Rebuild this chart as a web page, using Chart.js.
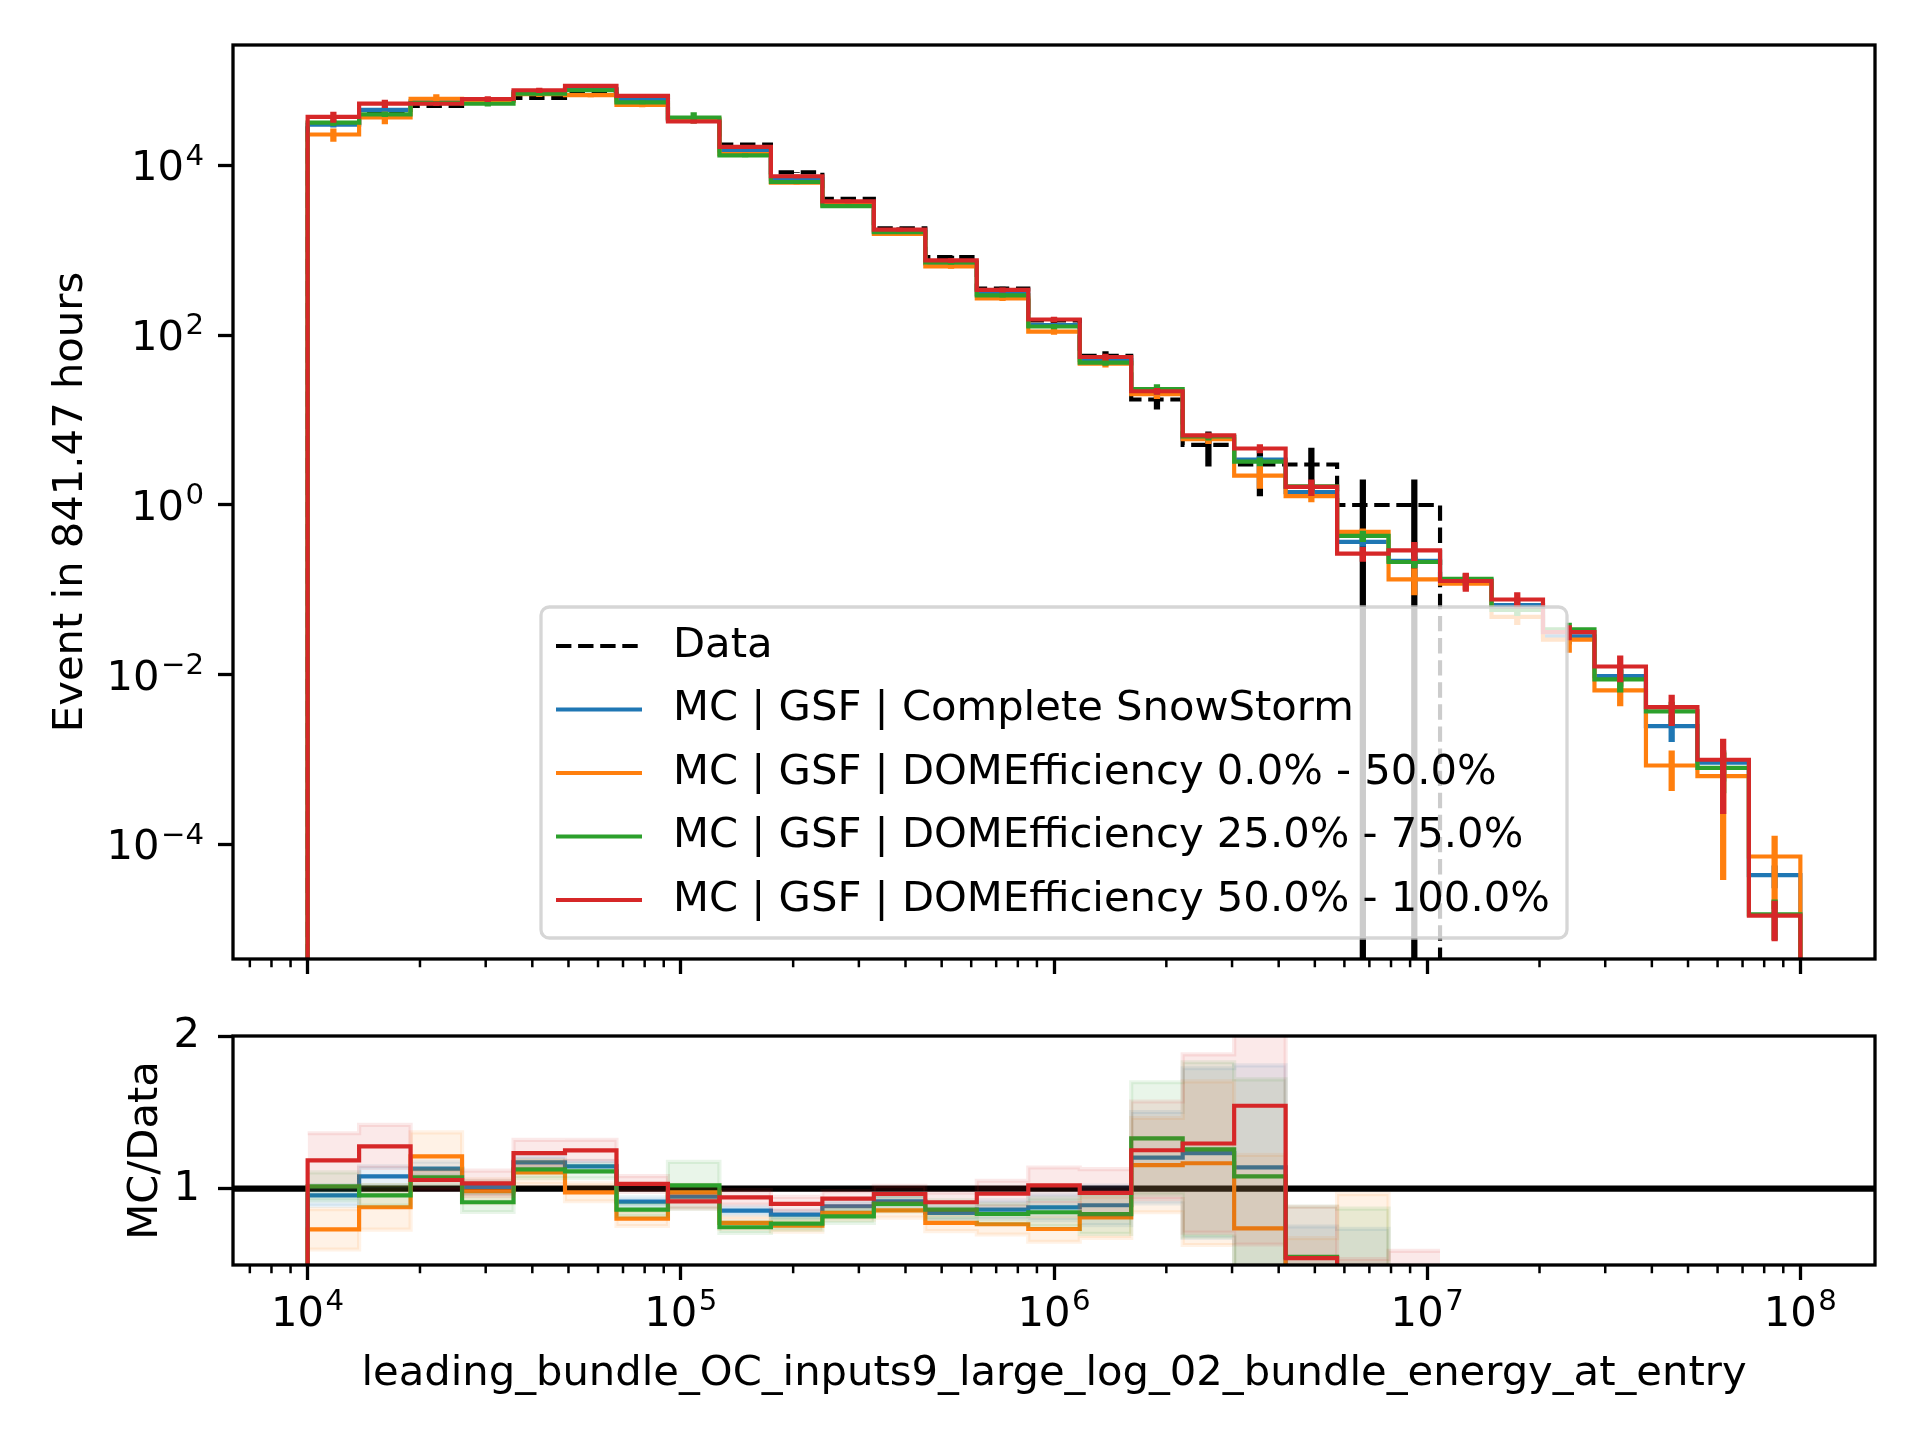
<!DOCTYPE html>
<html>
<head>
<meta charset="utf-8">
<title>leading_bundle_OC_inputs9_large_log_02_bundle_energy_at_entry</title>
<script src="https://cdn.jsdelivr.net/npm/chart.js@4.4.1/dist/chart.umd.min.js"></script>
<style>
  html, body { margin: 0; padding: 0; background: #ffffff; }
  #page { position: relative; width: 1920px; height: 1440px; overflow: hidden; }
  canvas { position: absolute; left: 0; }
  #hist { top: 0; }
  #ratio { top: 1000px; }
</style>
</head>
<body>
<div id="page">
  <canvas id="hist" width="1920" height="1000"></canvas>
  <canvas id="ratio" width="1920" height="440"></canvas>
</div>
<script>
// binning: 29 log-spaced bins between 1e4 and 1e8
const binLogMin = 4;
const binLogMax = 8;
const nBins = 29;

const dataCounts = [31600, 41900, 50500, 58700, 62500, 69300, 64300, 36000, 17600, 8300,
  4050, 1820, 835, 354, 150, 57, 17.5, 5.1, 3, 3, 1, 1, 0, 0, 0, 0, 0, 0, 0];
const dataErrors = [177.8, 204.7, 224.7, 242.3, 250, 263.2, 253.6, 189.7, 132.7, 91.1,
  63.6, 42.7, 28.9, 18.8, 12.2, 7.55, 4.18, 2.26, 1.73, 1.73, 1, 1, 0, 0, 0, 0, 0, 0, 0];

const seriesLabels = [
  'MC | GSF | Complete SnowStorm',
  'MC | GSF | DOMEfficiency 0.0% - 50.0%',
  'MC | GSF | DOMEfficiency 25.0% - 75.0%',
  'MC | GSF | DOMEfficiency 50.0% - 100.0%'
];
const seriesColors = ['#1f77b4', '#ff7f0e', '#2ca02c', '#d62728'];

const mcComplete = [30210, 45290, 57120, 59350, 73250, 79420, 58830, 34130, 15070, 6889,
  3584, 1669, 702, 305.5, 131.7, 50.8, 21.05, 6.29, 3.42, 1.42,
  0.367, 0.22, 0.129, 0.066, 0.0283, 0.00964, 0.00248, 0.00092, 4.34e-5];
const mcDom0to50 = [23190, 36790, 61160, 57700, 69190, 67640, 51700, 35140, 13660, 6291,
  3406, 1562, 648, 271.5, 110.4, 46.3, 20.2, 5.95, 2.22, 1.27,
  0.481, 0.133, 0.118, 0.048, 0.0259, 0.00653, 0.000851, 0.000637, 7.2e-5];
const mcDom25to75 = [32070, 40060, 54240, 53480, 70380, 77130, 55490, 36790, 13150, 6399,
  3317, 1638, 720.6, 295.2, 126.8, 47.5, 23.26, 6.41, 3.24, 1.66,
  0.432, 0.213, 0.135, 0.058, 0.0342, 0.00881, 0.00369, 0.0008, 1.5e-5];
const mcDom50to100 = [37450, 53510, 53380, 60750, 77060, 86690, 66290, 33010, 16600, 7470,
  3787, 1756, 760.7, 342.3, 153.3, 55.4, 21.9, 6.61, 4.63, 1.635,
  0.267, 0.292, 0.127, 0.077, 0.0318, 0.0125, 0.00415, 0.000995, 1.45e-5];

// relative statistical uncertainty of each MC bin
const relErrComplete = [0.07, 0.06, 0.04, 0.04, 0.03, 0.03, 0.03, 0.03, 0.03, 0.03,
  0.03, 0.035, 0.04, 0.045, 0.05, 0.06, 0.07, 0.08, 0.1, 0.12,
  0.12, 0.12, 0.12, 0.15, 0.2, 0.25, 0.35, 0.4, 0.3];
const relErrDom0to50 = [0.18, 0.166, 0.13, 0.08, 0.07, 0.06, 0.06, 0.05, 0.05, 0.05,
  0.05, 0.05, 0.06, 0.07, 0.08, 0.1, 0.12, 0.12, 0.3, 0.15,
  0.1, 0.35, 0.15, 0.2, 0.3, 0.35, 0.5, 0.94, 0.76];
const relErrDom25to75 = [0.09, 0.07, 0.05, 0.07, 0.05, 0.04, 0.05, 0.15, 0.05, 0.05,
  0.05, 0.05, 0.06, 0.06, 0.07, 0.08, 0.14, 0.1, 0.12, 0.15,
  0.15, 0.15, 0.15, 0.15, 0.2, 0.3, 0.3, 0.5, 0.5];
const relErrDom50to100 = [0.15, 0.11, 0.06, 0.08, 0.07, 0.055, 0.05, 0.05, 0.05, 0.05,
  0.05, 0.05, 0.06, 0.07, 0.08, 0.09, 0.09, 0.08, 0.12, 0.22,
  0.2, 0.25, 0.25, 0.22, 0.2, 0.35, 0.4, 0.77, 0.5];

const mcValues = [mcComplete, mcDom0to50, mcDom25to75, mcDom50to100];
const mcRelErrors = [relErrComplete, relErrDom0to50, relErrDom25to75, relErrDom50to100];

const histTickValues = [1e-4, 1e-2, 1, 1e2, 1e4];
const histTickExponents = ['\u22124', '\u22122', '0', '2', '4'];
const ratioTickValues = [1, 2];
const ratioTickLabels = ['1', '2'];
const energyTickValues = [1e4, 1e5, 1e6, 1e7, 1e8];
const energyTickExponents = ['4', '5', '6', '7', '8'];

const xMin = Math.pow(10, 3.8);
const xMax = Math.pow(10, 8.2);
const histMin = Math.pow(10, -5.35);
const histMax = Math.pow(10, 5.42);
const HIST_FLOOR = 1e-9;

const FONT = "'DejaVu Sans', sans-serif";
const PX = 41.7;
const LW = 4.17;

const edges = [];
for (let k = 0; k <= nBins; k++) edges.push(Math.pow(10, binLogMin + (binLogMax - binLogMin) * k / nBins));

function withAlpha(hex, a) {
  const n = parseInt(hex.slice(1), 16);
  return 'rgba(' + (n >> 16) + ',' + ((n >> 8) & 255) + ',' + (n & 255) + ',' + a + ')';
}

// histogram outline, points at left bin edges (stepped: 'before')
function stepPoints(vals, floor) {
  const pts = [];
  let open = false;
  for (let i = 0; i <= vals.length; i++) {
    const v = i < vals.length ? vals[i] : null;
    if (v === null) {
      if (open) {
        pts.push({x: edges[i], y: vals[i - 1]});
        if (floor !== null) pts.push({x: edges[i], y: floor});
        pts.push({x: edges[i], y: null});
        open = false;
      }
      continue;
    }
    if (!open && floor !== null) pts.push({x: edges[i], y: floor});
    pts.push({x: edges[i], y: v});
    open = true;
  }
  return pts;
}

function errorBarPoints(vals, errs) {
  const pts = [];
  vals.forEach((v, i) => {
    if (!(v > 0)) return;
    const c = Math.sqrt(edges[i] * edges[i + 1]);
    pts.push({x: c, y: Math.max(v - errs[i], HIST_FLOOR)}, {x: c, y: v + errs[i]}, {x: c, y: null});
  });
  return pts;
}

const lineBase = {pointRadius: 0, pointHoverRadius: 0, fill: false, tension: 0,
  borderCapStyle: 'butt', borderJoinStyle: 'miter'};

// ---------- top panel ----------
const histDatasets = [];
histDatasets.push(Object.assign({}, lineBase, {
  label: 'Data', legend: true,
  data: stepPoints(dataCounts.map(v => v > 0 ? v : HIST_FLOOR), HIST_FLOOR),
  borderColor: '#000000', borderWidth: LW, borderDash: [15.4, 6.7], stepped: 'before', order: 100
}));
histDatasets.push(Object.assign({}, lineBase, {
  label: 'Data errors', data: errorBarPoints(dataCounts, dataErrors),
  borderColor: '#000000', borderWidth: 6.25, order: 99
}));
mcValues.forEach((vals, s) => {
  const errs = vals.map((v, i) => v * mcRelErrors[s][i]);
  histDatasets.push(Object.assign({}, lineBase, {
    label: seriesLabels[s], legend: true,
    data: stepPoints(vals, HIST_FLOOR),
    borderColor: seriesColors[s], borderWidth: LW, stepped: 'before', order: 90 - 10 * s
  }));
  histDatasets.push(Object.assign({}, lineBase, {
    label: seriesLabels[s] + ' errors', data: errorBarPoints(vals, errs),
    borderColor: seriesColors[s], borderWidth: 6.25, order: 89 - 10 * s
  }));
});

// ---------- ratio panel ----------
const ratioDatasets = [];
ratioDatasets.push(Object.assign({}, lineBase, {
  data: [{x: xMin, y: 1}, {x: xMax, y: 1}], borderColor: '#000000', borderWidth: 6.25, order: 100
}));
mcValues.forEach((vals, s) => {
  const ratio = vals.map((v, i) => dataCounts[i] > 0 ? v / dataCounts[i] : null);
  const spread = ratio.map((r, i) => r === null ? null :
    r * Math.hypot(mcRelErrors[s][i], dataErrors[i] / dataCounts[i]));
  const upper = ratio.map((r, i) => r === null ? null : r + spread[i]);
  const lower = ratio.map((r, i) => r === null ? null : r - spread[i]);
  ratioDatasets.push(Object.assign({}, lineBase, {
    data: stepPoints(upper, null), stepped: 'before', fill: '+1',
    backgroundColor: withAlpha(seriesColors[s], 0.1), borderColor: withAlpha(seriesColors[s], 0.1),
    borderWidth: LW, order: 90 - 10 * s
  }));
  ratioDatasets.push(Object.assign({}, lineBase, {
    data: stepPoints(lower, null), stepped: 'before',
    borderColor: withAlpha(seriesColors[s], 0.1), borderWidth: LW, order: 89 - 10 * s
  }));
  ratioDatasets.push(Object.assign({}, lineBase, {
    data: stepPoints(ratio, 0), stepped: 'before',
    borderColor: seriesColors[s], borderWidth: LW, order: 88 - 10 * s
  }));
});

// ---------- plugins ----------
const framePlugin = {
  id: 'frame',
  afterDatasetsDraw(chart) {
    const {ctx, chartArea: a} = chart;
    ctx.save();
    ctx.strokeStyle = '#000000';
    ctx.lineWidth = 3.3;
    ctx.strokeRect(a.left, a.top, a.right - a.left, a.bottom - a.top);
    ctx.restore();
  }
};

const minorTickPlugin = {
  id: 'minorTicks',
  afterDatasetsDraw(chart) {
    const {ctx, chartArea: a} = chart;
    const sx = chart.scales.x;
    ctx.save();
    ctx.strokeStyle = '#000000';
    ctx.lineWidth = 2.5;
    ctx.beginPath();
    for (let d = 3; d <= 8; d++) {
      for (let m = 2; m <= 9; m++) {
        const v = m * Math.pow(10, d);
        if (v < sx.min || v > sx.max) continue;
        const px = sx.getPixelForValue(v);
        ctx.moveTo(px, a.bottom);
        ctx.lineTo(px, a.bottom + 8.3);
      }
    }
    ctx.stroke();
    ctx.restore();
  }
};

// "10" with a raised, smaller exponent, like mathtext
const powerLabelPlugin = {
  id: 'powerLabels',
  afterDraw(chart, args, opts) {
    if (!opts || !opts.axes) return;
    const {ctx, chartArea: a} = chart;
    const baseFont = PX + 'px ' + FONT;
    const expFont = (PX * 0.7) + 'px ' + FONT;
    ctx.save();
    ctx.fillStyle = '#000000';
    ctx.textBaseline = 'alphabetic';
    ctx.textAlign = 'left';
    opts.axes.forEach(ax => {
      const scale = chart.scales[ax.id];
      ax.values.forEach((v, i) => {
        const p = scale.getPixelForValue(v);
        ctx.font = baseFont;
        const wBase = ctx.measureText('10').width;
        ctx.font = expFont;
        const wExp = ctx.measureText(ax.exponents[i]).width;
        const total = wBase + 1.5 + wExp;
        let x0, yb;
        if (ax.side === 'left') {
          x0 = a.left - 29 - total;
          yb = p + 14.8;
        } else {
          x0 = p - total / 2;
          yb = a.bottom + 60.7;
        }
        ctx.font = baseFont;
        ctx.fillText('10', x0, yb);
        ctx.font = expFont;
        ctx.fillText(ax.exponents[i], x0 + wBase + 1.5, yb - 15.7);
      });
    });
    ctx.restore();
  }
};

const boxLegendPlugin = {
  id: 'boxLegend',
  afterDatasetsDraw(chart, args, opts) {
    if (!opts || !opts.box) return;
    const {ctx} = chart;
    const b = opts.box;
    ctx.save();
    ctx.beginPath();
    ctx.roundRect(b.x, b.y, b.w, b.h, 8.3);
    ctx.fillStyle = 'rgba(255,255,255,0.8)';
    ctx.fill();
    ctx.lineWidth = 3.3;
    ctx.strokeStyle = 'rgba(204,204,204,0.8)';
    ctx.stroke();
    const items = chart.data.datasets.filter(d => d.legend);
    ctx.font = PX + 'px ' + FONT;
    ctx.textBaseline = 'middle';
    ctx.textAlign = 'left';
    items.forEach((d, i) => {
      const y = opts.rowStart + opts.rowStep * i;
      ctx.beginPath();
      ctx.setLineDash(d.borderDash || []);
      ctx.strokeStyle = d.borderColor;
      ctx.lineWidth = d.borderWidth;
      ctx.moveTo(opts.handle[0], y);
      ctx.lineTo(opts.handle[1], y);
      ctx.stroke();
      ctx.setLineDash([]);
      ctx.fillStyle = '#000000';
      ctx.fillText(d.label, opts.textX, y);
    });
    ctx.restore();
  }
};

const tickFont = {family: FONT, size: PX, lineHeight: 1};
const titleFont = {family: FONT, size: PX, lineHeight: 1.2};
const tickGrid = {drawOnChartArea: false, drawTicks: true, tickLength: 15, tickWidth: 3.3, tickColor: '#000000'};

function energyAxis(height) {
  return {
    type: 'logarithmic', min: xMin, max: xMax, bounds: 'data',
    afterBuildTicks: s => { s.ticks = energyTickValues.map(v => ({value: v, major: true})); },
    ticks: {autoSkip: false, maxRotation: 0, color: '#000000', font: tickFont, padding: 11,
      callback: () => ''},
    grid: tickGrid,
    border: {display: false},
    afterFit: s => { s.height = height; s.paddingLeft = 0; s.paddingRight = 0; }
  };
}

// ---------- charts ----------
new Chart(document.getElementById('hist'), {
  type: 'line',
  data: {datasets: histDatasets},
  options: {
    responsive: false, animation: false, devicePixelRatio: 1,
    layout: {padding: {left: 0, right: 45, top: 45, bottom: 0}},
    events: [],
    plugins: {
      legend: {display: false}, tooltip: {enabled: false},
      boxLegend: {box: {x: 541, y: 607, w: 1026, h: 331}, rowStart: 646, rowStep: 63.5,
        handle: [556, 642], textX: 673},
      powerLabels: {axes: [{id: 'y', side: 'left', values: histTickValues, exponents: histTickExponents}]}
    },
    scales: {
      x: energyAxis(41),
      y: {
        type: 'logarithmic', min: histMin, max: histMax, bounds: 'data',
        afterBuildTicks: s => { s.ticks = histTickValues.map(v => ({value: v, major: true})); },
        ticks: {autoSkip: false, color: '#000000', font: tickFont, padding: 18, callback: () => ''},
        grid: tickGrid,
        border: {display: false},
        title: {display: true, text: 'Event in 841.47 hours', color: '#000000', font: titleFont,
          padding: {top: 46, bottom: 0}},
        afterFit: s => { s.width = 233; s.paddingTop = 0; s.paddingBottom = 0; }
      }
    }
  },
  plugins: [framePlugin, minorTickPlugin, boxLegendPlugin, powerLabelPlugin]
});

new Chart(document.getElementById('ratio'), {
  type: 'line',
  data: {datasets: ratioDatasets},
  options: {
    responsive: false, animation: false, devicePixelRatio: 1,
    layout: {padding: {left: 0, right: 45, top: 36, bottom: 0}},
    events: [],
    plugins: {
      legend: {display: false}, tooltip: {enabled: false},
      powerLabels: {axes: [{id: 'x', side: 'bottom', values: energyTickValues, exponents: energyTickExponents}]}
    },
    scales: {
      x: Object.assign(energyAxis(175), {
        title: {display: true, text: 'leading_bundle_OC_inputs9_large_log_02_bundle_energy_at_entry',
          color: '#000000', font: titleFont, padding: {top: 0, bottom: 41}}
      }),
      y: {
        type: 'linear', min: 0.5, max: 2, bounds: 'data',
        afterBuildTicks: s => { s.ticks = ratioTickValues.map(v => ({value: v})); },
        ticks: {autoSkip: false, color: '#000000', font: tickFont, padding: 18,
          callback: (v, i) => ratioTickLabels[i]},
        grid: tickGrid,
        border: {display: false},
        title: {display: true, text: 'MC/Data', color: '#000000', font: titleFont,
          padding: {top: 121, bottom: 0}},
        afterFit: s => { s.width = 233; s.paddingTop = 0; s.paddingBottom = 0; }
      }
    }
  },
  plugins: [framePlugin, minorTickPlugin, powerLabelPlugin]
});
</script>
</body>
</html>
